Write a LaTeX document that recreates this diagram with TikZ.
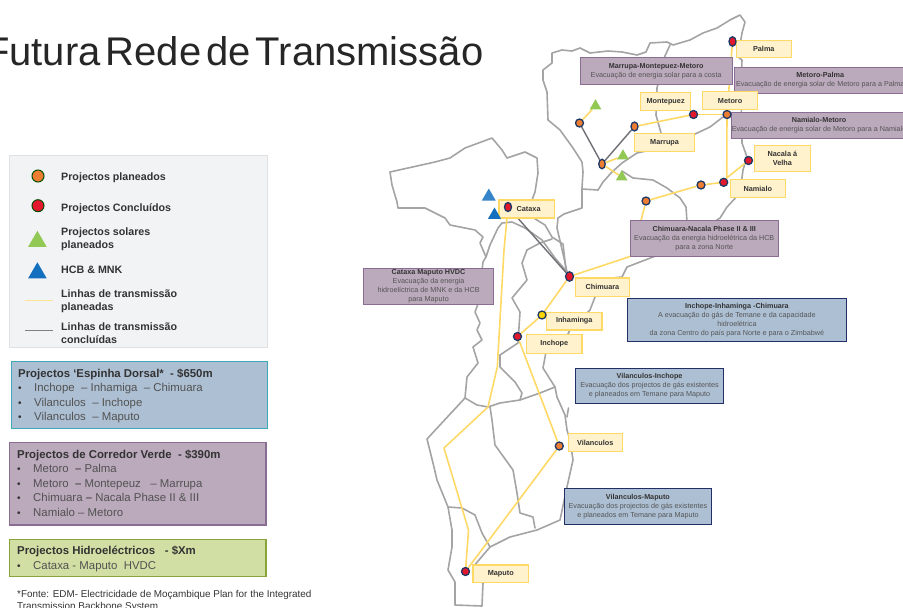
\documentclass[tikz,border=0pt]{standalone}
\usepackage{fontspec}
\setmainfont{Liberation Sans}
\usetikzlibrary{shapes.geometric,backgrounds}
\definecolor{ylin}{HTML}{FFD966}
\definecolor{yfil}{HTML}{FFF2CC}
\definecolor{glin}{HTML}{6F6F76}
\definecolor{mapc}{HTML}{A4A4A4}
\definecolor{navy}{HTML}{1F3864}
\definecolor{orng}{HTML}{ED7D31}
\definecolor{redd}{HTML}{E3182D}
\definecolor{grn}{HTML}{92C854}
\definecolor{blu}{HTML}{1270BE}
\definecolor{purf}{HTML}{BBA9BC}
\definecolor{purd}{HTML}{8A6D92}
\definecolor{bluf}{HTML}{ADBFD3}
\definecolor{blud}{HTML}{212F66}
\definecolor{teal}{HTML}{3FA7B8}
\definecolor{grnf}{HTML}{D1DFA4}
\definecolor{grnd}{HTML}{88A53B}
\definecolor{legf}{HTML}{F2F3F5}
\definecolor{legd}{HTML}{E0E1E3}
\definecolor{tdark}{HTML}{333333}
\definecolor{tgrey}{HTML}{555555}
\newcommand{\cl}[1]{\makebox[0pt]{#1}}
\newcommand{\hd}[1]{\cl{\bfseries\color{tdark}#1}}
\newcommand{\sbt}[1]{\cl{\color{tgrey}#1}}
\tikzset{
  x=1pt,y=-1pt,
  maproad/.style={draw=mapc,line width=1.6pt,line join=round,line cap=round},
  plan/.style={draw=ylin,line width=1.6pt,line join=round},
  done/.style={draw=glin,line width=1.4pt},
  ylabel/.style={draw=ylin,fill=yfil,line width=1.2pt,inner sep=0pt,anchor=north west,align=center,font=\fontsize{7.3}{8.5}\selectfont\bfseries,text=tdark},
  purbox/.style={draw=purd,fill=purf,line width=1.1pt,inner sep=0pt,anchor=north west,align=center,font=\fontsize{7.2}{9}\selectfont},
  blubox/.style={draw=blud,fill=bluf,line width=1.1pt,inner sep=0pt,anchor=north west,align=center,font=\fontsize{7.2}{9}\selectfont},
  stat/.style={ellipse,draw=navy,line width=1.3pt,inner sep=0pt,minimum width=8pt,minimum height=8pt},
  tri/.style={regular polygon,regular polygon sides=3,inner sep=0pt,minimum size=13.5pt,draw=none},
  legtxt/.style={anchor=west,inner sep=0pt,align=left,font=\fontsize{10.7}{13}\selectfont\bfseries,text=tdark},
  legone/.style={anchor=base west,inner sep=0pt,font=\fontsize{10.7}{13}\selectfont\bfseries,text=tdark},
  panel/.style={line width=1.3pt,anchor=north west,inner sep=0pt},
  ptitle/.style={anchor=base west,inner sep=0pt,font=\fontsize{11.4}{13}\selectfont\bfseries,text=tdark},
  pitem/.style={anchor=base west,inner sep=0pt,font=\fontsize{11.4}{13}\selectfont,text=tdark!85},
  pbul/.style={anchor=base west,inner sep=0pt,font=\fontsize{10}{13}\selectfont,text=tdark},
}
\begin{document}
\begin{tikzpicture}
\useasboundingbox (0,0) rectangle (903,608);
% title
\node[anchor=base west,inner sep=0pt,font=\fontsize{40}{44}\selectfont,text=black!85] (title) at (-15,65) {\spaceskip=5pt Futura Rede de Transmissão};
% legend
\node[panel,draw=legd,fill=legf,minimum width=257.7pt,minimum height=191.7pt] (legend) at (9,155) {};
\node[circle,draw=black!70!green,fill=orng,line width=1pt,minimum size=12pt,inner sep=0pt] (lg1) at (38,176) {};
\node[circle,draw=black!70!green,fill=redd,line width=1pt,minimum size=12pt,inner sep=0pt] (lg2) at (38,205.7) {};
\node[tri,fill=grn,minimum size=21.5pt] (lg3) at (37.4,241.5) {};
\node[tri,fill=blu,minimum size=21.5pt] (lg4) at (37.4,273) {};
\coordinate (ly1) at (25,300.7); \coordinate (ly2) at (52.7,300.7);
\coordinate (lk1) at (25,330.7); \coordinate (lk2) at (52.7,330.7);
\draw[draw=ylin!70!white,line width=1.3pt] (ly1) -- (ly2);
\draw[draw=black!50,line width=1.3pt] (lk1) -- (lk2);
\node[legone] (t1) at (61,180) {Projectos planeados};
\node[legone] (t2) at (61,211) {Projectos Concluídos};
\node[legtxt] (t3) at (61,239.5) {Projectos solares\\planeados};
\node[legone] (t4) at (61,273) {HCB \& MNK};
\node[legtxt] (t5) at (61,301.5) {Linhas de transmissão\\planeadas};
\node[legtxt] (t6) at (61,333) {Linhas de transmissão\\concluídas};
% panels
\node[panel,draw=teal,fill=bluf,minimum width=256pt,minimum height=66.7pt] (pa) at (10.7,361) {};
\node[ptitle] (pat) at (18,377) {Projectos ‘Espinha Dorsal*\ \ - \$650m};
\node[pbul] (pa1b) at (18,391) {•}; \node[pitem] (pa1) at (34,391) {Inchope\ \ – Inhamiga\ \ – Chimuara};
\node[pbul] (pa2b) at (18,406) {•}; \node[pitem] (pa2) at (34,406) {Vilanculos\ \ – Inchope};
\node[pbul] (pa3b) at (18,420) {•}; \node[pitem] (pa3) at (34,420) {Vilanculos\ \ – Maputo};
\node[panel,draw=purd,fill=purf,minimum width=256.3pt,minimum height=82.3pt] (pb) at (9,442) {};
\node[ptitle] (pbt) at (17,458) {Projectos de Corredor Verde\ \ - \$390m};
\node[pbul] (pb1b) at (17,472) {•}; \node[pitem] (pb1) at (33,472) {Metoro\ \ \textbf{–} Palma};
\node[pbul] (pb2b) at (17,487) {•}; \node[pitem] (pb2) at (33,487) {Metoro\ \ \textbf{–} Montepeuz\ \ \ – Marrupa};
\node[pbul] (pb3b) at (17,501) {•}; \node[pitem] (pb3) at (33,501) {Chimuara \textbf{–} Nacala Phase II \& III};
\node[pbul] (pb4b) at (17,516) {•}; \node[pitem] (pb4) at (33,516) {Namialo – Metoro};
\node[panel,draw=grnd,fill=grnf,minimum width=256.3pt,minimum height=37.3pt] (pc) at (9,538.7) {};
\node[ptitle] (pct) at (17,554) {Projectos Hidroeléctricos\ \ \ - \$Xm};
\node[pbul] (pc1b) at (17,569) {•}; \node[pitem] (pc1) at (33,569) {Cataxa - Maputo\ \ HVDC};
\node[anchor=base west,inner sep=0pt,font=\fontsize{9.9}{12}\selectfont,text=tdark] (fn1) at (17,597) {*Fonte: EDM- Electricidade de Moçambique Plan for the Integrated};
\node[anchor=base west,inner sep=0pt,font=\fontsize{9.9}{12}\selectfont,text=tdark] (fn2) at (17,609) {Transmission Backbone System};
% label boxes
\node[ylabel,minimum width=55pt,minimum height=17.5pt] (lpalma) at (735.7,39.5) {Palma};
\node[purbox,minimum width=152.2pt,minimum height=27.3pt] (bmmm) at (579.5,56.7) {\hd{Marrupa-Montepuez-Metoro}\\\sbt{Evacuação de energia solar para a costa}};
\node[purbox,minimum width=172pt,minimum height=26.3pt] (bmp) at (733.7,66.7) {\hd{Metoro-Palma}\\\sbt{Evacuação de energia solar de Metoro para a Palma}};
\node[ylabel,minimum width=50pt,minimum height=18.5pt] (lmont) at (640,91.5) {Montepuez};
\node[ylabel,minimum width=55pt,minimum height=18pt] (lmet) at (702,91) {Metoro};
\node[purbox,minimum width=175pt,minimum height=26pt] (bnm) at (731,111.7) {\hd{Namialo-Metoro}\\\sbt{Evacuação de energia solar de Metoro para a Namialo}};
\node[ylabel,minimum width=60pt,minimum height=18pt] (lmar) at (634,133) {Marrupa};
\node[ylabel,minimum width=55.5pt,minimum height=26.3pt] (lnac) at (754,144.7) {Nacala á\\Velha};
\node[ylabel,minimum width=55pt,minimum height=18pt] (lnam) at (729.7,179) {Namialo};
\node[purbox,minimum width=148pt,minimum height=36.3pt] (bcn) at (629.7,219.7) {\hd{Chimuara-Nacala Phase II \& III}\\\sbt{Evacuação da energia hidroelétrica da HCB}\\\sbt{para a zona Norte}};
\node[ylabel,minimum width=55.4pt,minimum height=18pt] (lcat) at (498.3,199.3) {\hspace*{4pt}Cataxa};
\node[purbox,minimum width=130.6pt,minimum height=35.7pt] (bcm) at (362.7,268.3) {\hd{Cataxa Maputo HVDC}\\\sbt{Evacuação da energia}\\\sbt{hidroelíctrica de MNK e da HCB}\\\sbt{para Maputo}};
\node[ylabel,minimum width=54.3pt,minimum height=18.7pt] (lchi) at (574.7,277.3) {Chimuara};
\node[ylabel,minimum width=55.3pt,minimum height=17.6pt] (linh) at (546,311.7) {Inhaminga};
\node[ylabel,minimum width=55.3pt,minimum height=19pt] (linc) at (526,333.7) {Inchope};
\node[blubox,minimum width=218.7pt,minimum height=43.6pt] (biic) at (627,297.7) {\hd{Inchope-Inhaminga -Chimuara}\\\sbt{A evacuação do gás de Temane e da capacidade}\\\sbt{hidroelétrica}\\\sbt{da zona Centro do país para Norte e para o Zimbabwé}};
\node[blubox,minimum width=148pt,minimum height=35pt] (bvi) at (575,368) {\hd{Vilanculos-Inchope}\\\sbt{Evacuação dos projectos de gás existentes}\\\sbt{e planeados em Temane para Maputo}};
\node[ylabel,minimum width=54pt,minimum height=17.7pt] (lvil) at (567.7,433) {Vilanculos};
\node[blubox,minimum width=147.3pt,minimum height=36.3pt] (bvm) at (563.7,487.7) {\hd{Vilanculos-Maputo}\\\sbt{Evacuação dos projectos de gás existentes}\\\sbt{e planeados em Temane para Maputo}};
\node[ylabel,minimum width=55.7pt,minimum height=17.7pt] (lmap) at (472.3,564.3) {Maputo};
% stations
\node[stat,fill=redd,minimum width=7pt,minimum height=9.5pt] (palma) at (732.5,41.5) {};
\node[stat,fill=orng] (metoro) at (727,114.5) {};
\node[stat,fill=redd] (montep) at (693.5,114.5) {};
\node[stat,fill=orng,minimum width=7pt,minimum height=9pt] (marrupa) at (634.5,126.5) {};
\node[stat,fill=orng,minimum width=6.5pt,minimum height=9.5pt] (lich) at (602,164) {};
\node[stat,fill=orng] (cuamba) at (579.5,123) {};
\node[stat,fill=redd] (namialo) at (723.7,182.3) {};
\node[stat,fill=orng] (nampula) at (701,185) {};
\node[stat,fill=orng] (alto) at (646,201) {};
\node[stat,fill=redd] (nacala) at (748.5,160.5) {};
\node[stat,fill=redd,minimum width=7pt,minimum height=9pt] (cataxa) at (508,207) {};
\node[stat,fill=redd,minimum width=8pt,minimum height=9.5pt] (chimuara) at (569.5,276.5) {};
\node[stat,fill=yellow!75!orange] (inhaminga) at (542,315) {};
\node[stat,fill=redd] (inchope) at (517.5,336.5) {};
\node[stat,fill=orng] (vilanculos) at (559.3,446) {};
\node[stat,fill=redd] (maputo) at (465.5,571.5) {};
% triangles
\node[tri,fill=grn] (g1) at (595.5,106) {};
\node[tri,fill=grn] (g2) at (623,156) {};
\node[tri,fill=grn] (g3) at (621.7,177) {};
\node[tri,fill=blu!85!white,minimum size=16pt] (b1) at (488.8,196.5) {};
\node[tri,fill=blu,minimum size=15pt] (b2) at (494.5,215) {};
% waypoints
\coordinate (w1) at (632,255.5);
\coordinate (w2) at (627,257.5);
\coordinate (w3) at (504,250);
\coordinate (w4) at (497.3,367);
\coordinate (w5) at (488,407);
\coordinate (w6) at (444,448);
\coordinate (w7) at (468.5,530);
\coordinate (w8) at (726.7,178);
\begin{scope}[on background layer]
% map
\draw[maproad] (580,48) -- (572,51) -- (562,50) -- (552,53) -- (552,63) -- (543,70) -- (543,80) -- (547,92) -- (548,120) -- (560,130) -- (573,148) -- (582,162) -- (583,172) -- (582,188) -- (582,208) -- (564,214) -- (558,218) -- (557,228) -- (561,245) -- (564,258) -- (567,272);
\draw[maproad] (580,48) -- (590,53) -- (608,51) -- (622,52) -- (637,55) -- (646,52) -- (650,43) -- (667,42) -- (673,45) -- (690,40) -- (703,33) -- (717,28) -- (730,20) -- (740,15) -- (745,22) -- (742,33) -- (738,57) -- (742,60) -- (741,90) -- (742,143) -- (747,157) -- (743,170) -- (740,193) -- (727,207) -- (720,218) -- (690,238) -- (653,257) -- (627,267) -- (622,277) -- (612,278) -- (595,297) -- (590,310) -- (570,330) -- (565,340) -- (546,352) -- (543,368) -- (555,387) -- (557,397) -- (565,415) -- (567,430) -- (570,440) -- (573,460) -- (567,487) -- (560,520) -- (537,530) -- (510,537) -- (490,547) -- (473,567) -- (475,578) -- (483,583) -- (482,606) -- (455,605) -- (455,582) -- (448,570) -- (452,547) -- (452,530) -- (448,507) -- (437,480) -- (433,463) -- (427,439) -- (465,398);
\draw[maproad] (582,189) -- (598,190) -- (603,182) -- (612,172) -- (622,163) -- (637,153) -- (660,148) -- (693,135) -- (710,127) -- (723,117);
\draw[maproad] (670,45) -- (665,56) -- (657,88) -- (656,115) -- (661,133);
\draw[maproad] (622,171) -- (633,178) -- (653,180) -- (667,188) -- (680,198) -- (686,207) -- (687,222);
% Tete
\draw[maproad] (390,172) -- (435,162) -- (450,158) -- (465,148) -- (492,138) -- (502,150) -- (507,158) -- (525,152) -- (537,158) -- (538,173) -- (535,192) -- (532,200) -- (532,217) -- (545,225) -- (552,237) -- (563,244) -- (566,270);
\draw[maproad] (390,172) -- (392,185) -- (397,202) -- (398,208) -- (425,208) -- (445,218) -- (450,225) -- (475,230) -- (483,237) -- (480,243) -- (486,257) -- (490,245) -- (498,228) -- (502,223) -- (512,222) -- (525,228) -- (542,240) -- (555,258) -- (568,273);
\draw[maproad] (486,257) -- (483,262) -- (478,304) -- (475,312) -- (480,323) -- (477,330) -- (482,340) -- (473,347) -- (478,363) -- (467,377) -- (465,398) -- (477,405) -- (488,407) -- (500,403) -- (520,400) -- (540,393) -- (555,387);
\draw[maproad] (552,239) -- (540,243) -- (527,250) -- (522,263) -- (527,280) -- (512,298) -- (520,312) -- (518,343) -- (500,355) -- (500,367) -- (515,382) -- (522,393) -- (520,400);
\draw[maproad] (490,407) -- (492,420) -- (495,445) -- (513,470) -- (517,493) -- (520,513) -- (533,517) -- (535,528);
\draw[maproad] (448,507) -- (462,508) -- (475,515) -- (482,533) -- (490,547);
\draw[maproad] (568.5,408) -- (567,417);
% lines
\draw[plan] (palma) -- (metoro);
\draw[plan] (metoro) -- (montep);
\draw[plan] (montep) -- (marrupa);
\draw[done] (marrupa) -- (lich);
\draw[done] (lich) -- (cuamba);
\draw[plan] (cuamba) -- (g1);
\draw[plan] (lich) -- (g2);
\draw[plan] (lich) -- (g3);
\draw[plan] (metoro) -- (w8) -- (namialo);
\draw[plan] (w8) -- (nacala);
\draw[plan] (namialo) -- (nampula);
\draw[plan] (nampula) -- (alto);
\draw[plan] (alto) -- (w1) -- (w2) -- (chimuara);
\draw[plan] (chimuara) -- (inhaminga);
\draw[plan] (inhaminga) -- (inchope);
\draw[plan] (inchope) -- (vilanculos);
\draw[plan] (vilanculos) -- (maputo);
\draw[plan] (cataxa) -- (w3) -- (w4) -- (w5) -- (w6) -- (w7) -- (maputo);
\draw[done] (cataxa) -- (chimuara);
\draw[done] (cataxa) -- (b2);
\end{scope}
\end{tikzpicture}
\end{document}
